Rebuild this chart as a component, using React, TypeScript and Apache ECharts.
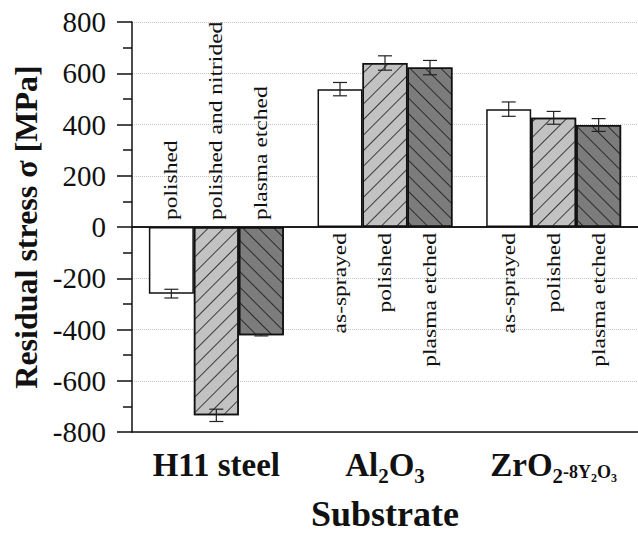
import React, { useEffect, useRef } from 'react';
import * as echarts from 'echarts';

const categories = ['H11 steel', 'Al2O3', 'ZrO2-8Y2O3'];
const categoryLabels = [
  '{b|H11 steel}',
  '{b|Al}{s|2}{b|O}{s|3}',
  '{b|ZrO}{s|2}{m|-8Y}{t|2}{m|O}{t|3}',
];
const seriesNames = ['Treatment 1', 'Treatment 2', 'Treatment 3'];
const treatment1 = [-260, 538, 460];
const treatment2 = [-735, 640, 426];
const treatment3 = [-422, 622, 398];
const error1 = [17, 26, 28];
const error2 = [24, 28, 25];
const error3 = [3, 28, 25];
const labels1 = ['polished', 'as-sprayed', 'as-sprayed'];
const labels2 = ['polished and nitrided', 'polished', 'polished'];
const labels3 = ['plasma etched', 'plasma etched', 'plasma etched'];
const yMin = -800;
const yMax = 800;
const yInterval = 200;

const FONT = 'Liberation Serif';

export default function App() {
  const ref = useRef<HTMLDivElement>(null);
  useEffect(() => {
    if (!ref.current) return;
    const chart = echarts.init(ref.current, undefined, { renderer: 'svg' });
    const values = [treatment1, treatment2, treatment3];
    const errors = [error1, error2, error3];
    const labels = [labels1, labels2, labels3];
    const errData: number[][] = [];
    categories.forEach((_, ci) => {
      values.forEach((vals, si) => {
        errData.push([ci, si, vals[ci], errors[si][ci]]);
      });
    });
    const fills = ['#ffffff', '#c2c2c2', '#7c7c7c'];
    const decals: any[] = [
      null,
      { symbol: 'rect', symbolSize: 1, dashArrayX: [1, 0], dashArrayY: [1, 9.5], rotation: -Math.PI / 4, color: '#3a3a3a' },
      { symbol: 'rect', symbolSize: 1, dashArrayX: [1, 0], dashArrayY: [1, 9.5], rotation: Math.PI / 4, color: '#2a2a2a' },
    ];
    const barSeries = values.map((vals, si) => ({
      name: seriesNames[si],
      type: 'bar',
      data: vals,
      barGap: '0%',
      barCategoryGap: '20%',
      itemStyle: {
        color: fills[si],
        borderColor: '#111',
        borderWidth: 1.5,
        ...(decals[si] ? { decal: decals[si] } : {}),
      },
      ...(si === 0
        ? {
            markLine: {
              silent: true,
              symbol: 'none',
              label: { show: false },
              lineStyle: { color: '#111', width: 1.5, type: 'solid' },
              data: [{ yAxis: 0 }],
            },
          }
        : {}),
    }));
    const LH = 34;
    const option: any = {
      animation: false,
      backgroundColor: '#ffffff',
      textStyle: { fontFamily: FONT },
      grid: { left: 132, top: 22, width: 516, height: 420 },
      xAxis: [
        {
          type: 'category',
          data: categories,
          position: 'bottom',
          axisLine: { onZero: false, lineStyle: { color: '#111', width: 1.5 } },
          axisTick: { alignWithLabel: true, length: 14, lineStyle: { color: '#111', width: 1.5 } },
          axisLabel: {
            margin: 16,
            interval: 0,
            formatter: (_v: string, i: number) => categoryLabels[i],
            rich: {
              b: { fontSize: 33, fontWeight: 'bold', fontFamily: FONT, color: '#111', lineHeight: LH },
              s: { fontSize: 21, fontWeight: 'bold', fontFamily: FONT, color: '#111', lineHeight: LH, padding: [22, 0, 0, 0] },
              m: { fontSize: 18, fontWeight: 'bold', fontFamily: FONT, color: '#111', lineHeight: LH, padding: [13, 0, 0, 0] },
              t: { fontSize: 12, fontWeight: 'bold', fontFamily: FONT, color: '#111', lineHeight: LH, padding: [26, 0, 0, 0] },
            },
          },
          name: 'Substrate',
          nameLocation: 'middle',
          nameGap: 64,
          nameTextStyle: { fontSize: 36, fontWeight: 'bold', fontFamily: FONT, color: '#111' },
        },
        {
          type: 'category',
          data: categories,
          position: 'top',
          axisLine: { lineStyle: { color: '#111', width: 1.5 } },
          axisTick: { show: false },
          axisLabel: { show: false },
        },
      ],
      yAxis: {
        type: 'value',
        min: yMin,
        max: yMax,
        interval: yInterval,
        axisLine: { show: true, lineStyle: { color: '#111', width: 1.5 } },
        axisTick: { show: true, length: 15, lineStyle: { color: '#111', width: 1.5 } },
        minorTick: { show: true, splitNumber: 2, length: 9, lineStyle: { color: '#111', width: 1.5 } },
        splitLine: { show: true, lineStyle: { type: 'dotted', color: '#c4c4c4', width: 1 } },
        axisLabel: { fontSize: 29, fontFamily: FONT, color: '#111', margin: 26 },
        name: 'Residual stress σ [MPa]',
        nameLocation: 'middle',
        nameGap: 86,
        nameTextStyle: { fontSize: 32, fontWeight: 'bold', fontFamily: FONT, color: '#111' },
      },
      series: [
        ...barSeries,
        {
          type: 'custom',
          name: 'error',
          data: errData,
          encode: { x: 0, y: 2 },
          z: 10,
          renderItem: (params: any, api: any) => {
            const ci = api.value(0);
            const si = api.value(1);
            const v = api.value(2);
            const e = api.value(3);
            const base = api.coord([ci, 0]);
            const bandW = api.size([1, 0])[0];
            const bw = (bandW * 0.8) / 3;
            const x = base[0] + (si - 1) * bw;
            const yTop = api.coord([ci, v + e])[1];
            const yBot = api.coord([ci, v - e])[1];
            const zeroY = base[1];
            const neg = v < 0;
            const cap = 7;
            const ls = { stroke: '#222', lineWidth: 1.2 };
            return {
              type: 'group',
              children: [
                { type: 'line', shape: { x1: x, y1: yTop, x2: x, y2: yBot }, style: ls },
                { type: 'line', shape: { x1: x - cap, y1: yTop, x2: x + cap, y2: yTop }, style: ls },
                { type: 'line', shape: { x1: x - cap, y1: yBot, x2: x + cap, y2: yBot }, style: ls },
                {
                  type: 'text',
                  x: x,
                  y: neg ? zeroY - 7 : zeroY + 6,
                  rotation: Math.PI / 2,
                  scaleY: 0.78,
                  style: {
                    text: labels[si][ci],
                    fontSize: 23.5,
                    fontFamily: FONT,
                    fill: '#111',
                    align: neg ? 'left' : 'right',
                    verticalAlign: 'middle',
                  },
                },
              ],
            };
          },
        },
      ],
    };
    chart.setOption(option);
    return () => chart.dispose();
  }, []);
  return (
    <div
      ref={ref}
      style={{ position: 'fixed', left: 0, top: 0, width: 638, height: 537, background: '#fff' }}
    />
  );
}
